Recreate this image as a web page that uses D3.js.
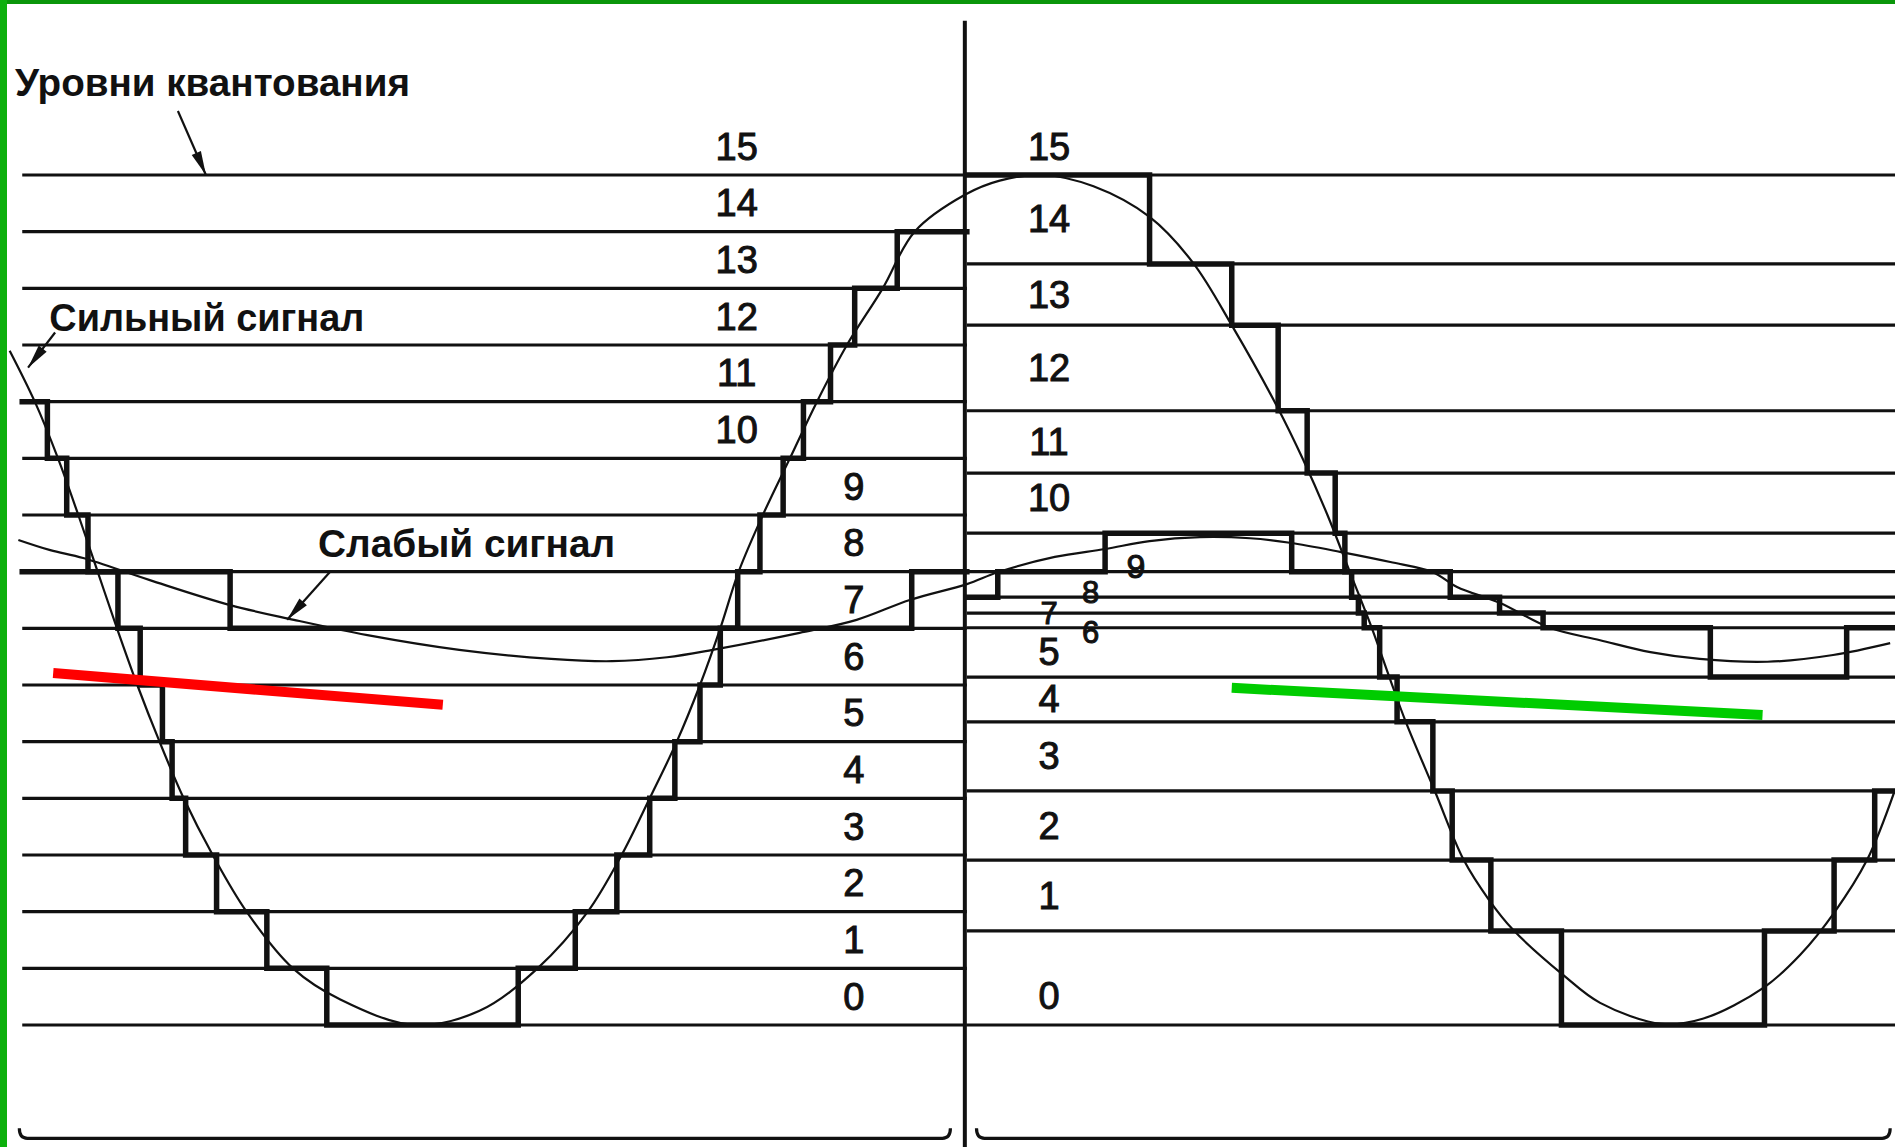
<!DOCTYPE html>
<html><head><meta charset="utf-8">
<script src="https://cdn.jsdelivr.net/npm/d3@7"></script>
<style>html,body{margin:0;padding:0;background:#fff;}svg{display:block;}</style>
</head><body>
<script>
// ---------- DATA (time units t, amplitude units a) ----------
const leftLevels = [0,1,2,3,4,5,6,7,8,9,10,11,12,13,14,15];
// non-uniform (companded) boundaries of the right panel, in amplitude units
const rightBounds = [0,1.66,2.91,4.13,5.35,6.14,7.01,7.27,7.55,8.0,8.68,9.74,10.84,12.35,13.43,15];
const leftLabels  = ["0","1","2","3","4","5","6","7","8","9","10","11","12","13","14","15"];
const rightLabels = ["0","1","2","3","4","5","6","7","8","9","10","11","12","13","14","15"];

// strong analog signal [t, a]
const strongSignal = [
 [1.0,11.9],[3.6,11],[6.0,10],[8.1,9],[10.1,8],[12.1,7],[14.2,6],[16.5,5],[19.0,4],[22.0,3],
 [25.5,2],[30.3,1],[35.2,0.45],[42.9,0],[49.6,0.25],[55.6,1],[60.8,2],[64.3,3],[67.2,4],[70.0,5],
 [72.4,6],[74.5,7],[76.4,8],[78.9,9],[81.7,10],[84.5,11],[87.6,12],[91.3,13],[94.6,14],[99.8,14.65],
 [103.4,14.9],[107.9,15.0],[113.1,14.8],[118.9,14.26],[123.4,13.45],[127.5,12.32],[132.1,10.91],
 [134.8,9.97],[137.3,9.0],[139.6,8.0],[141.9,7.0],[143.8,6.09],[145.4,5.35],[148.4,4.13],[151.4,2.91],
 [154.0,2.21],[156.5,1.68],[161.7,0.88],[165.5,0.39],[171.8,0.02],[176.1,0.11],[182.5,0.67],
 [186.2,1.24],[189.7,1.98],[193.1,2.91],[196.0,4.15]
];
// weak analog signal [t, a]
const weakSignal = [
 [1.9,8.56],[5.2,8.38],[8.6,8.24],[15.5,7.85],[23.8,7.41],[30.4,7.15],[38.0,6.88],[47.5,6.62],
 [57.0,6.46],[63.3,6.42],[69.0,6.49],[73.7,6.62],[82.7,6.92],[88.6,7.15],[94.1,7.50],[100.0,7.78],
 [103.2,7.99],[109.1,8.26],[114.3,8.40],[118.9,8.54],[124.1,8.61],[129.3,8.59],[133.4,8.51],
 [138.6,8.35],[143.8,8.17],[148.2,7.99],[150.7,7.73],[155.1,7.45],[160.3,7.01],[165.5,6.79],
 [170.7,6.58],[175.8,6.46],[182.8,6.41],[189.6,6.53],[195.5,6.74]
];
// quantized staircases [t_start, level]; last entry closes the run
const strongStepsLeft = [
 [2.3,11],[4.9,10],[6.9,9],[9.1,8],[12.2,7],[14.5,6],[16.8,5],[17.8,4],[19.2,3],[22.4,2],[27.6,1],
 [33.8,0],[53.6,1],[59.5,2],[63.8,3],[67.2,4],[69.8,5],[72.4,6],[74.5,7],[76.3,8],[78.6,9],[81.0,10],
 [83.1,11],[85.9,12],[88.4,13],[92.8,14],[100,14]
];
const strongStepsRight = [
 [100,15],[118.9,14],[127.4,13],[132.2,12],[135.2,11],[138.1,10],[139.1,9],[139.8,8],[140.5,7],
 [141.1,6],[142.7,5],[144.5,4],[148.2,3],[150.2,2],[154.2,1],[161.5,0],[182.5,1],[189.7,2],[193.9,3],[196,3]
];
const weakStepsLeft  = [[2.3,8],[23.8,7],[94.3,8],[100,8]];
const weakStepsRight = [[100,8],[103.2,9],[114.3,10],[133.6,9],[150.0,8],[155.1,7],[159.6,6],[176.9,5],[191.0,6],[196,6]];

// annotations (text, arrow from -> tip) in data units
const annotations = [
 {text:"Уровни квантования", t:1.55, a:16.4, len:395, from:[18.4,16.13], to:[21.3,15.0]},
 {text:"Сильный сигнал",     t:5.1,  a:12.25, len:315, from:[5.7,12.22],  to:[2.9,11.6]},
 {text:"Слабый сигнал",      t:32.9, a:8.26, len:297, from:[34.1,7.99],  to:[29.7,7.15]}
];
const redMark   = [[5.5,6.21],[45.8,5.65]];
const greenMark = [[127.4,5.95],[182.3,5.47]];

// ---------- LAYOUT ----------
const W = 1895, H = 1147;
const x = d3.scaleLinear().domain([0,196]).range([0,W]);
const y = d3.scaleLinear().domain([0,15]).range([1025,175]);
const INK = "#111";

const svg = d3.select("body").append("svg").attr("width",W).attr("height",H);
svg.append("rect").attr("width",W).attr("height",H).attr("fill","#fff");

// grid (quantization levels)
svg.append("g").selectAll("line").data(leftLevels).join("line")
  .attr("x1",x(2.3)).attr("x2",x(100)).attr("y1",d=>y(d)).attr("y2",d=>y(d))
  .attr("stroke",INK).attr("stroke-width",3.2);
svg.append("g").selectAll("line").data(rightBounds).join("line")
  .attr("x1",x(100)).attr("x2",x(196)).attr("y1",d=>y(d)).attr("y2",d=>y(d))
  .attr("stroke",INK).attr("stroke-width",3.2);

// bottom frame lines
const frameA = -2.0;
[[2.0,98.3],[101.0,195.5]].forEach(([t0,t1])=>{
  const p = d3.path();
  p.moveTo(x(t0), y(frameA)-10);
  p.quadraticCurveTo(x(t0), y(frameA), x(t0)+8, y(frameA));
  p.lineTo(x(t1)-8, y(frameA));
  p.quadraticCurveTo(x(t1), y(frameA), x(t1), y(frameA)-10);
  svg.append("path").attr("d",p.toString()).attr("fill","none").attr("stroke",INK).attr("stroke-width",3.2);
});

// centre divider
svg.append("line").attr("x1",x(100)-2).attr("x2",x(100)-2).attr("y1",y(17.72)).attr("y2",H)
  .attr("stroke",INK).attr("stroke-width",4);

// analog signals
const smooth = d3.line().x(d=>x(d[0])).y(d=>y(d[1])).curve(d3.curveCatmullRom.alpha(0.5));
svg.append("path").attr("d",smooth(strongSignal)).attr("fill","none").attr("stroke",INK).attr("stroke-width",2.2);
svg.append("path").attr("d",smooth(weakSignal)).attr("fill","none").attr("stroke",INK).attr("stroke-width",2.2);

// staircases
const stepL = d3.line().x(d=>x(d[0])).y(d=>y(d[1])).curve(d3.curveStepAfter);
const stepR = d3.line().x(d=>x(d[0])).y(d=>y(rightBounds[d[1]])).curve(d3.curveStepAfter);
[[stepL,strongStepsLeft],[stepR,strongStepsRight],[stepL,weakStepsLeft],[stepR,weakStepsRight]].forEach(([gen,data])=>{
  svg.append("path").attr("d",gen(data)).attr("fill","none").attr("stroke",INK)
    .attr("stroke-width",5.5).attr("stroke-linejoin","miter").attr("stroke-linecap","square");
});

// level labels
const FONT = "'Liberation Sans', Arial, sans-serif";
svg.append("g").selectAll("text").data(leftLabels).join("text")
  .attr("x",(d,i)=> i>=10 ? x(76.2) : x(88.3))
  .attr("y",(d,i)=> y(i+0.5))
  .attr("text-anchor","middle").attr("dominant-baseline","central")
  .attr("font-family",FONT).attr("font-size",38).attr("fill",INK)
  .attr("stroke",INK).attr("stroke-width",1).text(d=>d);

const rightDx = {9:9.0, 8:4.3, 6:4.3};
const rightDy = {0:18, 6:12, 7:8, 8:8, 9:14, 10:-5};
const rightFs = {6:31, 7:31, 8:31, 9:34};
svg.append("g").selectAll("text").data(rightLabels).join("text")
  .attr("x",(d,i)=> x(108.5 + (rightDx[i]||0)))
  .attr("y",(d,i)=> (i===15 ? y(15.5) : y((rightBounds[i]+rightBounds[i+1])/2)) + (rightDy[i]||0))
  .attr("text-anchor","middle").attr("dominant-baseline","central")
  .attr("font-family",FONT).attr("font-size",(d,i)=>rightFs[i]||38).attr("fill",INK)
  .attr("stroke",INK).attr("stroke-width",1).text(d=>d);

// annotations
annotations.forEach(an=>{
  svg.append("text").attr("x",x(an.t)).attr("y",y(an.a))
    .attr("font-family",FONT).attr("font-size",38).attr("font-weight","bold")
    .attr("textLength",an.len).attr("lengthAdjust","spacingAndGlyphs")
    .attr("fill",INK).text(an.text);
  const x1=x(an.from[0]), y1=y(an.from[1]), x2=x(an.to[0]), y2=y(an.to[1]);
  svg.append("line").attr("x1",x1).attr("y1",y1).attr("x2",x2).attr("y2",y2)
    .attr("stroke",INK).attr("stroke-width",2.2);
  const ang=Math.atan2(y2-y1,x2-x1), L=24, w=5;
  const bx=x2-L*Math.cos(ang), by=y2-L*Math.sin(ang);
  const pts=[[x2,y2],[bx+w*Math.sin(ang),by-w*Math.cos(ang)],[bx-w*Math.sin(ang),by+w*Math.cos(ang)]];
  svg.append("path").attr("d","M"+pts.map(p=>p.join(",")).join("L")+"Z").attr("fill",INK);
});

// coloured highlight strokes
const straight = d3.line().x(d=>x(d[0])).y(d=>y(d[1]));
svg.append("path").attr("d",straight(redMark)).attr("stroke","#ff0000").attr("stroke-width",10).attr("fill","none");
svg.append("path").attr("d",straight(greenMark)).attr("stroke","#00cc00").attr("stroke-width",10).attr("fill","none");

// green frame edges
svg.append("rect").attr("x",0).attr("y",0).attr("width",W).attr("height",4).attr("fill","#0a960a");
svg.append("rect").attr("x",0).attr("y",0).attr("width",7).attr("height",H).attr("fill","#0cb00c");
</script>
</body></html>
